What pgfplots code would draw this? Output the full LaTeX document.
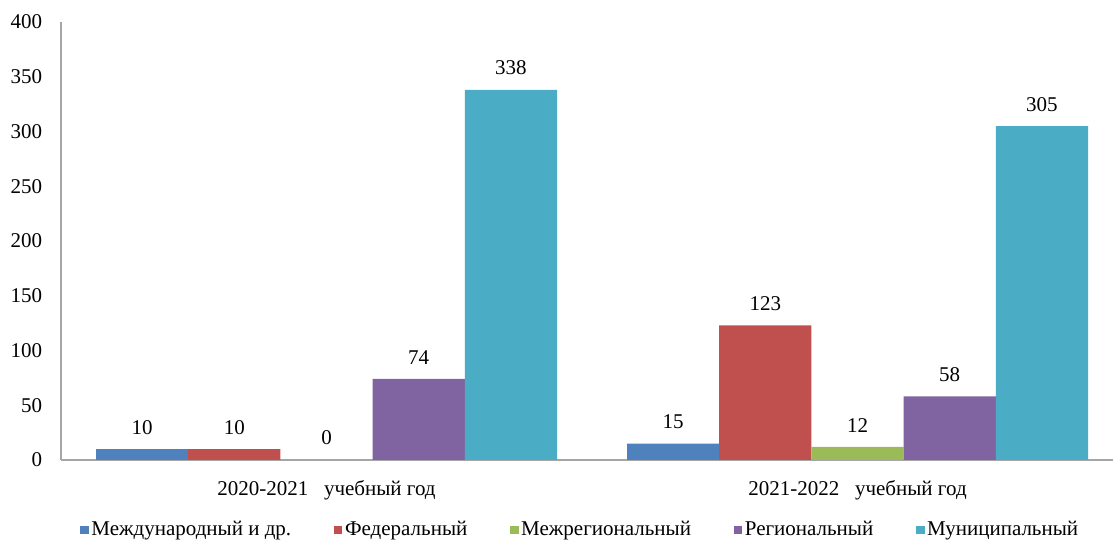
\documentclass[border=0pt]{standalone}
\usepackage{pgfplots}
\pgfplotsset{compat=1.18}
\usepackage{fontspec}
\setmainfont{Liberation Serif}
\definecolor{c1}{HTML}{4F81BD}
\definecolor{c2}{HTML}{C0504D}
\definecolor{c3}{HTML}{9BBB59}
\definecolor{c4}{HTML}{8064A2}
\definecolor{c5}{HTML}{4BACC6}
\definecolor{axgray}{HTML}{A6A6A6}
\begin{document}
\fontsize{15.75pt}{18pt}\selectfont
\begin{tikzpicture}
\path[use as bounding box] (-45.75pt,-60.75pt) rectangle (789pt,345pt);
\begin{axis}[
  at={(0,0)}, anchor=south west,
  scale only axis, width=796.5pt, height=328.5pt,
  xmin=-0.5, xmax=1.5, ymin=0, ymax=400,
  ybar=0pt, bar width=69.15pt,
  axis x line=bottom, axis y line=left,
  axis line style={draw=axgray, line width=1.2pt, -},
  major tick length=0pt,
  ytick={0,50,...,400},
  xtick={0,1},
  xticklabels={2020-2021\ \ \ учебный год, 2021-2022\ \ \ учебный год},
  yticklabel style={anchor=east, inner sep=0pt, xshift=-14pt, font=\fontsize{15.75pt}{18pt}\selectfont},
  xticklabel style={anchor=base, inner sep=0pt, yshift=-27pt, font=\fontsize{15.75pt}{18pt}\selectfont},
  /pgf/number format/assume math mode=true,
  nodes near coords,
  every node near coord/.append style={anchor=south, inner sep=0pt, yshift=10.9pt, font=\fontsize{15.75pt}{18pt}\selectfont, text=black},
  clip=false,
  legend columns=5,
  legend style={draw=none, fill=none, at={(0.4892,-0.1598)}, anchor=center,
    font=\fontsize{15.75pt}{18pt}\selectfont,
    /tikz/every even column/.append style={column sep=30pt},
    inner sep=0pt},
  legend image code/.code={\fill[#1] (0pt,-3.2pt) rectangle (6.4pt,3.2pt);},
]
\addplot[fill=c1, draw=none] coordinates {(0,10) (1,15)};
\addplot[fill=c2, draw=none] coordinates {(0,10) (1,123)};
\addplot[fill=c3, draw=none] coordinates {(0,0) (1,12)};
\addplot[fill=c4, draw=none] coordinates {(0,74) (1,58)};
\addplot[fill=c5, draw=none] coordinates {(0,338) (1,305)};
\legend{Международный и др., Федеральный, Межрегиональный, Региональный, Муниципальный}
\end{axis}
\end{tikzpicture}
\end{document}
